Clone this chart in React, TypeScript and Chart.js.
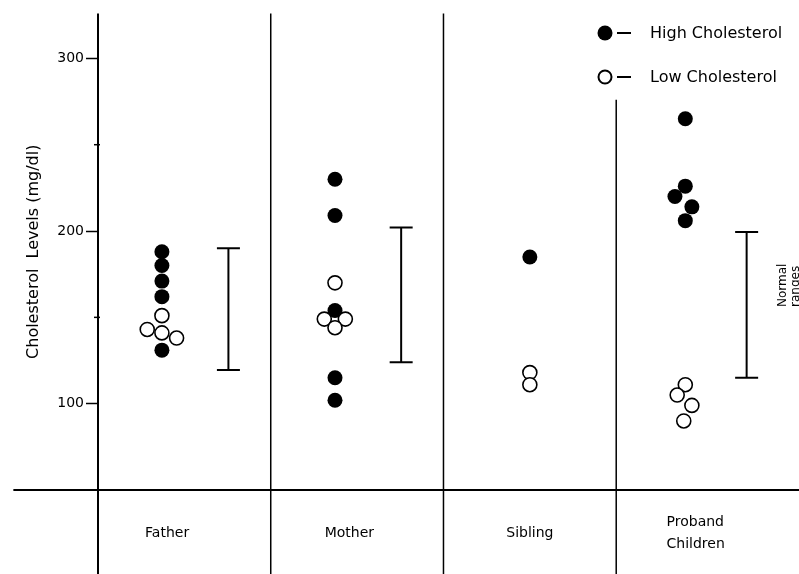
import { useEffect, useRef } from 'react';
import { Chart, registerables } from 'chart.js';

Chart.register(...registerables);

// Group labels along the bottom
const categories = ['Father', 'Mother', 'Sibling', 'Proband\nChildren'];

// Cholesterol levels (mg/dl), split by the high / low cholesterol subjects
const fatherHigh = [188, 180, 171, 162, 131];
const fatherLow = [151, 143, 141, 138];
const motherHigh = [230, 209, 154, 115, 102];
const motherLow = [170, 149, 149, 144];
const siblingHigh = [185];
const siblingLow = [118, 111];
const probandHigh = [265, 226, 220, 214, 206];
const probandLow = [111, 105, 99, 90];

// Normal ranges [low, high] per group (none for the sibling)
const normalRanges: (number[] | null)[] = [[119.5, 190], [124, 202], null, [115, 199.5]];

const yTicks = [100, 200, 300];
const yMinorTicks = [150, 250];

// Horizontal placement inside each group column (column units)
const pointLane = [0.37, 0.372, 0.5, 0.4];
const rangeLane = 0.755;
const labelLane = [0.4, 0.455, 0.5, 0.46];
const fatherHighJitter = [0, 0, 0, 0, 0];
const fatherLowJitter = [0, -0.085, 0, 0.085];
const motherHighJitter = [0, 0, 0, 0, 0];
const motherLowJitter = [0, -0.062, 0.06, 0];
const siblingHighJitter = [0];
const siblingLowJitter = [0, 0];
const probandHighJitter = [0, 0, -0.06, 0.038, 0];
const probandLowJitter = [0, -0.047, 0.038, -0.009];

const FONT = '"DejaVu Sans", sans-serif';
const INK = '#000';

function toPoints(group: number, values: number[], jitter: number[]) {
  return values.map((v, i) => ({ x: group + pointLane[group] + jitter[i], y: v }));
}

const highPoints = [
  ...toPoints(0, fatherHigh, fatherHighJitter),
  ...toPoints(1, motherHigh, motherHighJitter),
  ...toPoints(2, siblingHigh, siblingHighJitter),
  ...toPoints(3, probandHigh, probandHighJitter),
];
const lowPoints = [
  ...toPoints(0, fatherLow, fatherLowJitter),
  ...toPoints(1, motherLow, motherLowJitter),
  ...toPoints(2, siblingLow, siblingLowJitter),
  ...toPoints(3, probandLow, probandLowJitter),
];

// Frame, group dividers, category names, legend and range caption
const framePlugin = {
  id: 'frame',
  beforeDatasetsDraw(chart: any) {
    const { ctx, chartArea, scales } = chart;
    const xs = scales.x;
    const ys = scales.y;
    const H = chart.height;
    ctx.save();
    ctx.strokeStyle = INK;
    ctx.lineCap = 'butt';

    // vertical axis, extended through the label band
    ctx.lineWidth = 2;
    ctx.beginPath();
    ctx.moveTo(chartArea.left, chartArea.top);
    ctx.lineTo(chartArea.left, H);
    ctx.stroke();

    // minor tick nubs
    ctx.lineWidth = 1.5;
    yMinorTicks.forEach((v) => {
      const y = ys.getPixelForValue(v);
      ctx.beginPath();
      ctx.moveTo(chartArea.left - 4, y);
      ctx.lineTo(chartArea.left + 2, y);
      ctx.stroke();
    });

    // group dividers
    ctx.lineWidth = 1.5;
    [1, 2].forEach((g) => {
      const x = xs.getPixelForValue(g);
      ctx.beginPath();
      ctx.moveTo(x, chartArea.top);
      ctx.lineTo(x, H);
      ctx.stroke();
    });
    const x3 = xs.getPixelForValue(3);
    ctx.beginPath();
    ctx.moveTo(x3, ys.getPixelForValue(276));
    ctx.lineTo(x3, H);
    ctx.stroke();

    // baseline
    ctx.lineWidth = 2;
    ctx.beginPath();
    ctx.moveTo(xs.getPixelForValue(-0.49), chartArea.bottom);
    ctx.lineTo(chart.width, chartArea.bottom);
    ctx.stroke();

    // category names
    ctx.fillStyle = INK;
    ctx.font = `14px ${FONT}`;
    ctx.textBaseline = 'middle';
    categories.forEach((c, i) => {
      const lines = c.split('\n');
      const cx = xs.getPixelForValue(i + labelLane[i]);
      const cy = chartArea.bottom + 43;
      const lh = 22;
      if (lines.length === 1) {
        ctx.textAlign = 'center';
        ctx.fillText(lines[0], cx, cy);
      } else {
        ctx.textAlign = 'left';
        const w = Math.max(...lines.map((l) => ctx.measureText(l).width));
        lines.forEach((l, k) => {
          ctx.fillText(l, cx - w / 2, cy + (k - (lines.length - 1) / 2) * lh);
        });
      }
    });

    // legend
    ctx.font = `16px ${FONT}`;
    ctx.textAlign = 'left';
    const legend = [
      { y: 33, filled: true, text: 'High Cholesterol' },
      { y: 77, filled: false, text: 'Low Cholesterol' },
    ];
    legend.forEach((item) => {
      ctx.beginPath();
      ctx.arc(605, item.y, item.filled ? 7.5 : 6.5, 0, Math.PI * 2);
      if (item.filled) {
        ctx.fillStyle = INK;
        ctx.fill();
      } else {
        ctx.lineWidth = 2;
        ctx.stroke();
      }
      ctx.lineWidth = 2;
      ctx.beginPath();
      ctx.moveTo(617, item.y);
      ctx.lineTo(631, item.y);
      ctx.stroke();
      ctx.fillStyle = INK;
      ctx.fillText(item.text, 650, item.y + 1);
    });

    // caption next to the proband range bar
    ctx.save();
    ctx.translate(783, ys.getPixelForValue(156));
    ctx.rotate(-Math.PI / 2);
    ctx.font = `12px ${FONT}`;
    ctx.textAlign = 'left';
    ctx.textBaseline = 'middle';
    ctx.fillText('Normal', 0, 0);
    ctx.fillText('ranges', 0, 13);
    ctx.restore();

    ctx.restore();
  },
};

function rangeDataset(g: number) {
  const r = normalRanges[g] as number[];
  return {
    type: 'line' as const,
    label: 'Normal range',
    data: [
      { x: g + rangeLane, y: r[1] },
      { x: g + rangeLane, y: r[0] },
    ],
    borderColor: INK,
    borderWidth: 2,
    pointStyle: 'line' as const,
    pointRadius: 11.5,
    pointBorderWidth: 2,
    pointBorderColor: INK,
    showLine: true,
    order: 3,
  };
}

export default function App() {
  const ref = useRef<HTMLCanvasElement | null>(null);

  useEffect(() => {
    if (!ref.current) return;
    const rangeSets = normalRanges
      .map((r, g) => (r ? rangeDataset(g) : null))
      .filter(Boolean) as any[];

    const chart = new Chart(ref.current, {
      type: 'scatter',
      data: {
        datasets: [
          {
            label: 'Low Cholesterol',
            data: lowPoints,
            pointRadius: 7,
            pointBorderWidth: 1.6,
            pointBackgroundColor: '#fff',
            pointBorderColor: INK,
            order: 1,
          },
          {
            label: 'High Cholesterol',
            data: highPoints,
            pointRadius: 7.5,
            pointBorderWidth: 0,
            pointBackgroundColor: INK,
            pointBorderColor: INK,
            order: 2,
          },
          ...rangeSets,
        ],
      },
      options: {
        responsive: false,
        animation: false,
        events: [],
        layout: { padding: { top: 10, right: 0, bottom: 84, left: 0 } },
        plugins: {
          legend: { display: false },
          tooltip: { enabled: false },
        },
        scales: {
          x: {
            type: 'linear',
            min: 0,
            max: 3.98,
            display: false,
          },
          y: {
            type: 'linear',
            min: 50,
            max: 326,
            afterBuildTicks: (s: any) => {
              s.ticks = yTicks.map((v) => ({ value: v }));
            },
            afterFit: (s: any) => {
              s.width = 98;
            },
            border: { display: false },
            grid: {
              drawOnChartArea: false,
              drawTicks: true,
              tickLength: 12,
              tickWidth: 1.5,
              tickColor: INK,
            },
            ticks: {
              padding: 2,
              color: INK,
              font: { family: FONT, size: 14 },
            },
            title: {
              display: true,
              text: 'Cholesterol  Levels (mg/dl)',
              color: INK,
              font: { family: FONT, size: 16 },
              padding: { top: 24, bottom: 0 },
            },
          },
        },
      },
      plugins: [framePlugin],
    });
    return () => chart.destroy();
  }, []);

  return (
    <div style={{ position: 'fixed', left: 0, top: 0, width: 799, height: 574, background: '#fff' }}>
      <canvas ref={ref} width={799} height={574} />
    </div>
  );
}
